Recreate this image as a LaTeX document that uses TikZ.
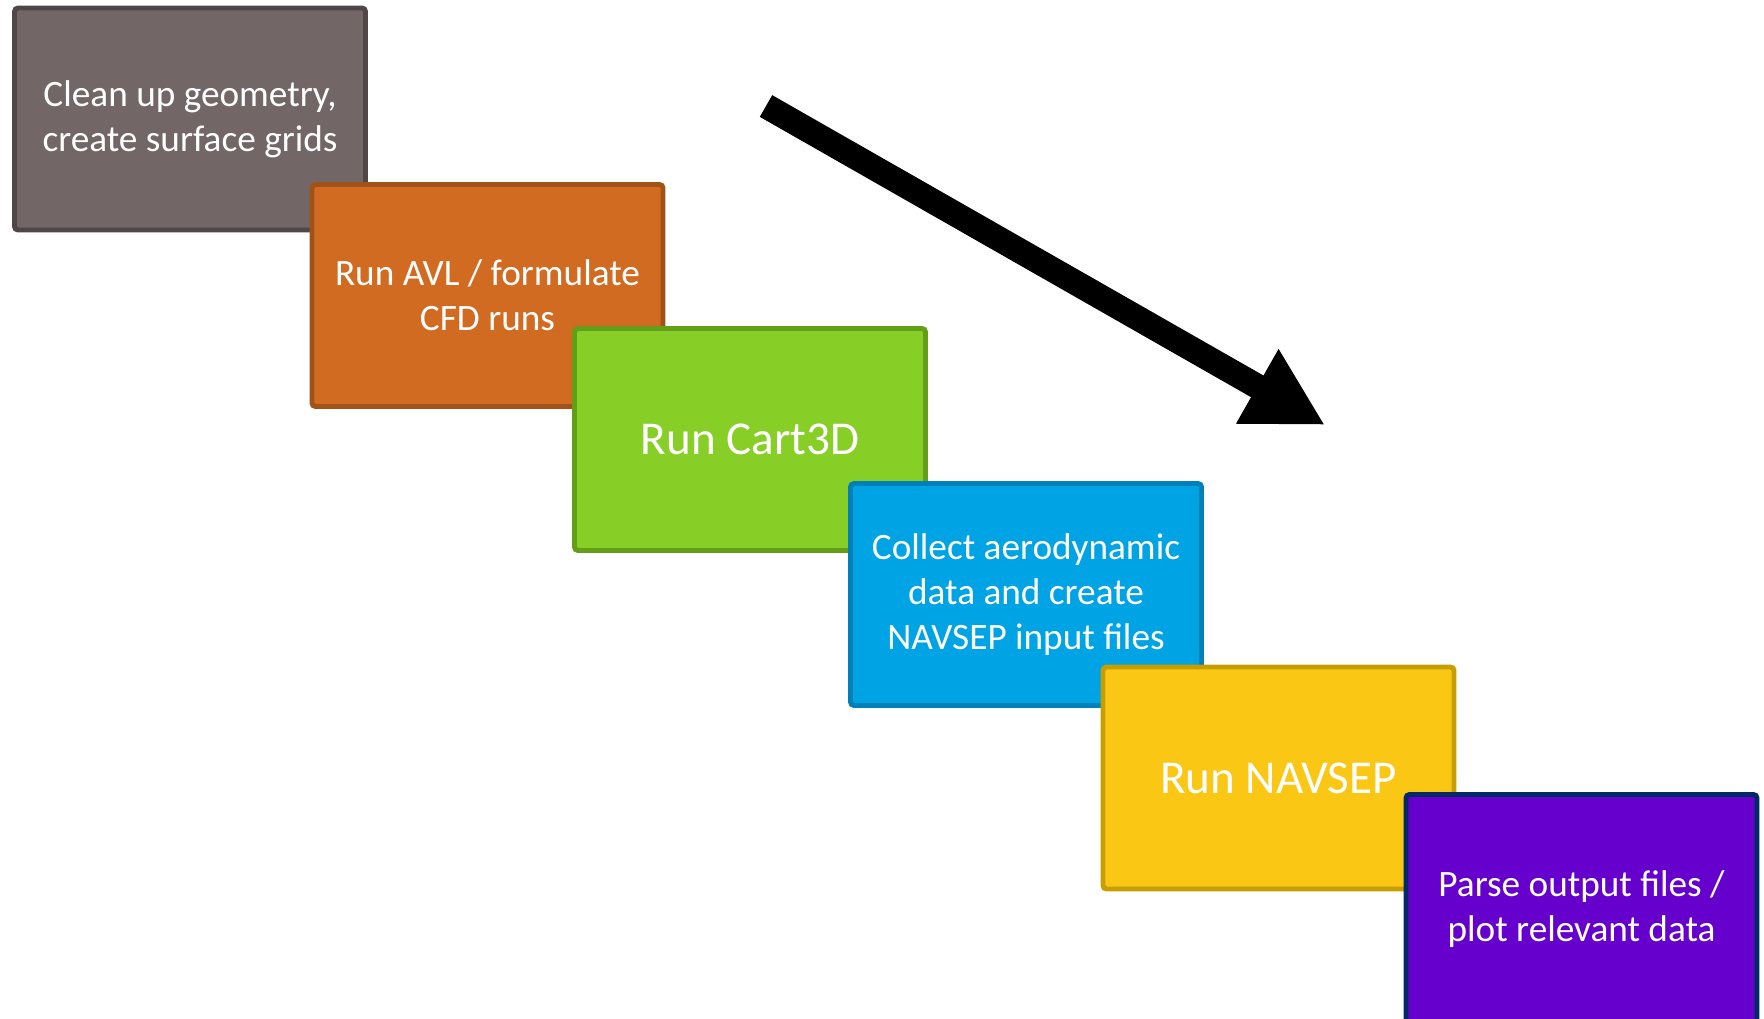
\documentclass[tikz,border=0pt]{standalone}
\usepackage{fontspec}
\setmainfont{Carlito}
\usepackage{tikz}
\usetikzlibrary{arrows.meta}
\usetikzlibrary{shadows}
\definecolor{sgray}{rgb}{0.45, 0.40, 0.40}
\definecolor{sgrayline}{rgb}{0.31, 0.28, 0.28}
\definecolor{sorange}{rgb}{0.82, 0.42, 0.13}
\definecolor{sorangeline}{rgb}{0.63, 0.32, 0.10}
\definecolor{sgreen}{rgb}{0.53, 0.81, 0.15}
\definecolor{sgreenline}{rgb}{0.39, 0.62, 0.10}
\definecolor{sblue}{rgb}{0.00, 0.64, 0.89}
\definecolor{sblueline}{rgb}{0.00, 0.50, 0.72}
\definecolor{syellow}{rgb}{0.98, 0.78, 0.08}
\definecolor{syellowline}{rgb}{0.78, 0.62, 0.00}
\definecolor{spurple}{rgb}{0.40, 0.00, 0.80}
\definecolor{spurpleline}{rgb}{0.00, 0.16, 0.40}
\tikzset{
  stage/.style={draw, line width=1.4pt, rounded corners=1pt,
    minimum width=3.51cm, minimum height=2.22cm, inner sep=0pt,
    align=center, text=white, font=\fontsize{10.6}{12.8}\selectfont,
    drop shadow={opacity=0.18, shadow xshift=0.6pt, shadow yshift=-0.6pt}},
  bigstage/.style={stage, font=\fontsize{13.4}{16}\selectfont}
}

\begin{document}
\begin{tikzpicture}
      \useasboundingbox (0, 0) rectangle (17.64, 10.18);

      \node [stage, fill=sgray, draw=sgrayline] (clean) at (1.90, 8.99)
        {Clean up geometry,\\create surface grids};
      \node [stage, fill=sorange, draw=sorangeline] (avl) at (4.875, 7.225)
        {Run AVL / formulate\\CFD runs};
      \node [bigstage, fill=sgreen, draw=sgreenline] (cart) at (7.50, 5.785)
        {Run Cart3D};
      \node [stage, fill=sblue, draw=sblueline] (collect) at (10.26, 4.235)
        {Collect aerodynamic\\data and create\\NAVSEP input files};
      \node [bigstage, fill=syellow, draw=syellowline] (navsep) at (12.785, 2.40)
        {Run NAVSEP};
      \node [stage, fill=spurple, draw=spurpleline, minimum height=2.30cm] (parse) at (15.815, 1.085)
        {Parse output files /\\plot relevant data};

      \coordinate (tail) at (7.66, 9.12);
      \coordinate (tip) at (13.25, 5.93);
      \draw [line width=0.25cm, -{Triangle[length=0.78cm, width=0.80cm]}] (tail) -- (tip);
    \end{tikzpicture}
\end{document}
